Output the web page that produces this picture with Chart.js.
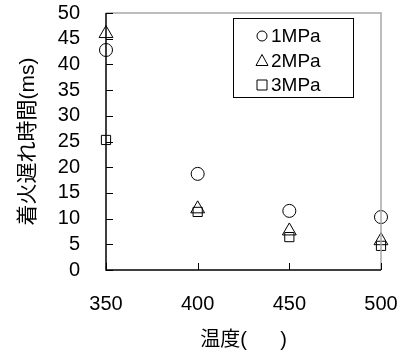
<!DOCTYPE html>
<html>
<head>
<meta charset="utf-8">
<script src="https://cdn.jsdelivr.net/npm/chart.js@4.4.1/dist/chart.umd.min.js"></script>
<style>
  html, body { margin: 0; padding: 0; background: #fff; }
  #wrap { width: 405px; height: 354px; }
</style>
</head>
<body>
<div id="wrap"><canvas id="myChart" width="405" height="354"></canvas></div>
<script>
// temperatures and ignition delays
const temps = [350, 400, 450, 500];
const delay1MPa = [42.8, 18.7, 11.5, 10.3];
const delay2MPa = [46.0, 11.9, 7.6, 5.7];
const delay3MPa = [25.3, 11.3, 6.4, 4.7];
const seriesLabels = ['1MPa', '2MPa', '3MPa'];
const xTicks = [350, 400, 450, 500];
const yTicks = [0, 5, 10, 15, 20, 25, 30, 35, 40, 45, 50];

const FONT = "'Liberation Sans', Arial, 'Noto Sans CJK JP', sans-serif";

function toPoints(vals) {
    return temps.map((t, i) => ({ x: t, y: vals[i] }));
}

const styles = ['circle', 'triangle', 'rect'];

// frame, inner tick marks and the boxed legend
const framePlugin = {
    id: 'frame',
    afterDraw(chart) {
        const ctx = chart.ctx;
        const a = chart.chartArea;
        const xs = chart.scales.x;
        const ys = chart.scales.y;
        ctx.save();
        // gray top + right
        ctx.strokeStyle = '#a8a8a8';
        ctx.lineWidth = 1.5;
        ctx.beginPath();
        ctx.moveTo(a.left, a.top);
        ctx.lineTo(a.right, a.top);
        ctx.lineTo(a.right, a.bottom);
        ctx.stroke();
        // black left + bottom
        ctx.strokeStyle = '#000';
        ctx.beginPath();
        ctx.moveTo(a.left, a.top);
        ctx.lineTo(a.left, a.bottom);
        ctx.lineTo(a.right, a.bottom);
        ctx.stroke();
        // ticks pointing in
        ctx.lineWidth = 1;
        yTicks.forEach(v => {
            const py = Math.round(ys.getPixelForValue(v)) + 0.5;
            ctx.beginPath();
            ctx.moveTo(a.left, py);
            ctx.lineTo(a.left + 7, py);
            ctx.stroke();
        });
        xTicks.forEach(v => {
            const px = Math.round(xs.getPixelForValue(v)) + 0.5;
            ctx.beginPath();
            ctx.moveTo(px, a.bottom);
            ctx.lineTo(px, a.bottom - 7);
            ctx.stroke();
        });

        // legend box
        const bx = a.right - 148, by = a.top + 5, bw = 120, bh = 79;
        ctx.fillStyle = '#fff';
        ctx.fillRect(bx, by, bw, bh);
        ctx.strokeStyle = '#000';
        ctx.lineWidth = 1;
        ctx.strokeRect(bx + 0.5, by + 0.5, bw, bh);
        ctx.font = '19px ' + FONT;
        ctx.textBaseline = 'middle';
        ctx.textAlign = 'left';
        chart.data.datasets.forEach((ds, i) => {
            const cy = by + 18 + i * 24.5;
            const cx = bx + 29;
            ctx.strokeStyle = '#000';
            ctx.lineWidth = 1;
            ctx.beginPath();
            if (i === 0) {
                ctx.arc(cx, cy, 5, 0, Math.PI * 2);
            } else if (i === 1) {
                ctx.moveTo(cx, cy - 6);
                ctx.lineTo(cx + 6, cy + 5);
                ctx.lineTo(cx - 6, cy + 5);
                ctx.closePath();
            } else {
                ctx.rect(cx - 5, cy - 5, 10, 10);
            }
            ctx.stroke();
            ctx.fillStyle = '#000';
            ctx.fillText(ds.label, cx + 9, cy + 1);
        });
        ctx.restore();
    }
};

const datasets = [delay1MPa, delay2MPa, delay3MPa].map((vals, i) => ({
    label: seriesLabels[i],
    data: toPoints(vals),
    pointStyle: styles[i],
    pointRadius: i === 1 ? 8 : 6.5,
    backgroundColor: 'rgba(0,0,0,0)',
    borderColor: '#000',
    borderWidth: 1,
    clip: false
}));

function noEdgePad(s) {
    s.paddingTop = 0;
    s.paddingBottom = 0;
    s.paddingLeft = 0;
    s.paddingRight = 0;
}

const config = {
    type: 'scatter',
    data: { datasets: datasets },
    options: {
        responsive: false,
        animation: false,
        layout: { padding: { top: 13, right: 24, left: 0, bottom: 0 } },
        plugins: {
            legend: { display: false },
            tooltip: { enabled: false }
        },
        scales: {
            x: {
                min: 350,
                max: 500,
                grid: { display: false, drawTicks: false },
                border: { display: false },
                afterFit: s => { s.height = 84; noEdgePad(s); },
                afterBuildTicks: s => { s.ticks = xTicks.map(v => ({ value: v })); },
                ticks: {
                    color: '#000',
                    padding: 22,
                    autoSkip: false,
                    maxRotation: 0,
                    font: { family: FONT, size: 20 }
                },
                title: {
                    display: true,
                    text: '温度(      )',
                    color: '#000',
                    font: { family: FONT, size: 20 },
                    padding: { top: 0, bottom: 2 }
                }
            },
            y: {
                min: 0,
                max: 50,
                grid: { display: false, drawTicks: false },
                border: { display: false },
                afterFit: s => { s.width = 106; noEdgePad(s); },
                afterBuildTicks: s => { s.ticks = yTicks.map(v => ({ value: v })); },
                ticks: {
                    color: '#000',
                    padding: 26,
                    autoSkip: false,
                    font: { family: FONT, size: 20 }
                },
                title: {
                    display: true,
                    text: '着火遅れ時間(ms)',
                    color: '#000',
                    font: { family: FONT, size: 21 },
                    padding: { top: 16, bottom: 0 }
                }
            }
        }
    },
    plugins: [framePlugin]
};

const ctx = document.getElementById('myChart').getContext('2d');
new Chart(ctx, config);
</script>
</body>
</html>
